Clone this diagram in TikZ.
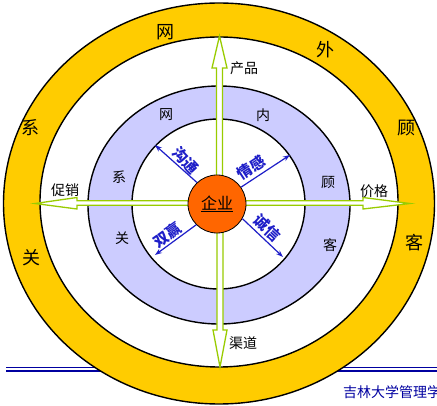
\documentclass[tikz,border=0pt]{standalone}
\usepackage{fontspec}
\setmainfont{Noto Sans CJK SC}
\usetikzlibrary{arrows.meta}
\definecolor{ringyellow}{RGB}{255,204,0}
\definecolor{ringpurple}{RGB}{204,204,255}
\definecolor{coreorange}{RGB}{255,102,0}
\definecolor{arrowgreen}{RGB}{153,204,0}
\definecolor{linkblue}{RGB}{30,30,200}
\definecolor{footblue}{RGB}{0,0,160}
\tikzset{
  ring/.style={draw=black, line width=1.4pt},
  blockarrow/.style={draw=arrowgreen, fill=white, line width=1.3pt, line join=miter},
  linkarrow/.style={draw=linkblue, line width=1.2pt, -{Stealth[length=7pt,width=5pt]}},
  linklabel/.style={text=linkblue, font=\fontsize{15}{15}\selectfont\bfseries, inner sep=0pt},
  outerlabel/.style={font=\fontsize{18}{18}\selectfont, inner sep=0pt},
  innerlabel/.style={font=\fontsize{14}{14}\selectfont, inner sep=0pt},
  mixlabel/.style={font=\fontsize{14}{14}\selectfont, inner sep=0pt},
}
\begin{document}
\begin{tikzpicture}[x=1pt,y=-1pt]
\useasboundingbox (0,0) rectangle (437,406);
% footer double line (behind the rings)
\draw[footblue, line width=1.1pt] (6,367.5) -- (437,367.5);
\draw[footblue, line width=1.1pt] (6,371) -- (437,371);
% rings
\fill[ringyellow] (219,203.5) ellipse [x radius=215.5pt, y radius=200.5pt];
\draw[ring] (219,203.5) ellipse [x radius=215.5pt, y radius=200.5pt];
\filldraw[ring, fill=white] (219,202) ellipse [x radius=179pt, y radius=165pt];
\filldraw[ring, fill=ringpurple] (219,205) ellipse [x radius=131pt, y radius=119pt];
\filldraw[ring, fill=white] (218.5,204) ellipse [x radius=86.5pt, y radius=85pt];
% green hollow arrows
\draw[blockarrow] (216.5,204) -- (216.5,68) -- (212,68) -- (219.5,36) -- (227,68) -- (222.5,68) -- (222.5,204) -- cycle;
\draw[blockarrow] (217,204) -- (217,330) -- (213,330) -- (220,367) -- (227,330) -- (223,330) -- (223,204) -- cycle;
\draw[blockarrow] (219,200.8) -- (77,200.8) -- (77,197.5) -- (35,203.5) -- (77,209) -- (77,205.2) -- (219,205.2) -- cycle;
\draw[blockarrow] (219,200.8) -- (363,200.8) -- (363,197.5) -- (410,203.5) -- (363,209) -- (363,205.2) -- (219,205.2) -- cycle;
% core
\node[circle, draw=black, line width=0.8pt, fill=coreorange, minimum size=58pt, inner sep=0pt,
      font=\fontsize{16}{16}\selectfont] (core) at (217,204) {\underline{企业}};
% blue link arrows
\coordinate (tipA) at (155,145);
\coordinate (tipB) at (290,155);
\coordinate (tipC) at (283,257);
\coordinate (tipD) at (155,255);
\draw[linkarrow] (core.133) -- (tipA);
\draw[linkarrow] (core.35) -- (tipB);
\draw[linkarrow] (core.-30) -- (tipC);
\draw[linkarrow] (core.-135) -- (tipD);
\node[linklabel, rotate=-47] (lA) at (186,161) {沟通};
\node[linklabel, rotate=33] (lB) at (251,168) {情感};
\node[linklabel, rotate=-43] (lC) at (267,228) {诚信};
\node[linklabel, rotate=35] (lD) at (167,235) {双赢};
% outer ring labels
\node[outerlabel] (o1) at (165,32) {网};
\node[outerlabel] (o2) at (325,50) {外};
\node[outerlabel] (o3) at (406,128) {顾};
\node[outerlabel] (o4) at (414,243) {客};
\node[outerlabel] (o5) at (30,128) {系};
\node[outerlabel] (o6) at (32,258) {关};
% inner ring labels
\node[innerlabel] (i1) at (166,115) {网};
\node[innerlabel] (i2) at (263,115) {内};
\node[innerlabel] (i3) at (328,182) {顾};
\node[innerlabel] (i4) at (330,245) {客};
\node[innerlabel] (i5) at (119,177) {系};
\node[innerlabel] (i6) at (122,238) {关};
% marketing mix labels
\node[mixlabel] (m1) at (244,68) {产品};
\node[mixlabel] (m2) at (65,190) {促销};
\node[mixlabel] (m3) at (374,191) {价格};
\node[mixlabel] (m4) at (243,343) {渠道};
% footer text
\node[anchor=west, text=footblue, font=\fontsize{14}{14}\selectfont, inner sep=0pt] (foot) at (343,392) {吉林大学管理学};
\end{tikzpicture}
\end{document}
